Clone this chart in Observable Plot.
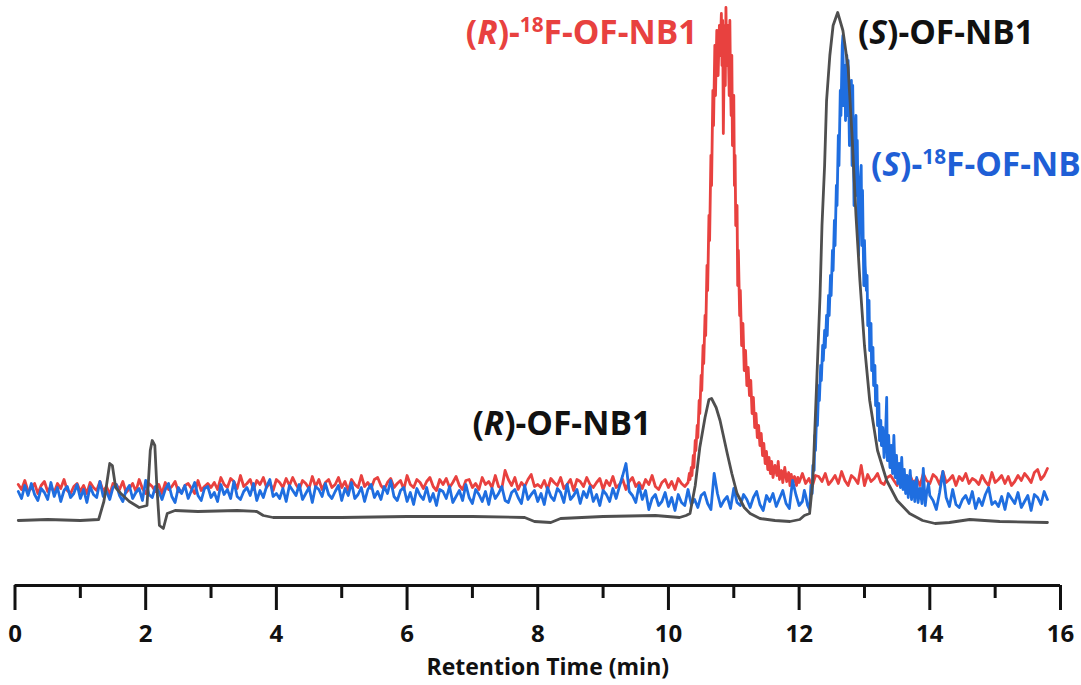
<!DOCTYPE html>
<html><head><meta charset="utf-8">
<script src="https://cdn.jsdelivr.net/npm/d3@7"></script>
<script src="https://cdn.jsdelivr.net/npm/@observablehq/plot@0.6"></script>
<style>html,body{margin:0;padding:0;background:#fff;} #chart{width:1081px;height:685px;overflow:hidden}</style>
</head><body><div id="chart"></div>
<script>
// Retention time (min), detector signal (arbitrary units)
const redTrace = [
[0.05,101],[0.1,96],[0.15,105],[0.2,94],[0.25,97],[0.3,102],[0.35,92],[0.4,100],[0.45,104],[0.5,94],[0.55,99],[0.6,93],[0.65,102],[0.7,97],[0.75,106],[0.8,95],[0.85,92],[0.9,99],[0.95,102],[1.0,94],
[1.05,100],[1.1,92],[1.15,103],[1.2,98],[1.25,95],[1.3,104],[1.35,94],[1.4,99],[1.45,91],[1.5,102],[1.55,101],[1.6,96],[1.65,104],[1.7,93],[1.75,97],[1.8,102],[1.85,94],[1.9,106],[1.95,97],[2.0,92],
[2.05,102],[2.1,99],[2.15,94],[2.2,101],[2.25,92],[2.3,103],[2.35,96],[2.4,99],[2.45,104],[2.5,94],[2.55,93],[2.6,100],[2.65,102],[2.7,97],[2.75,92],[2.8,105],[2.85,95],[2.9,99],[2.95,102],
[3.0,98],[3.05,103],[3.1,96],[3.15,108],[3.2,101],[3.25,98],[3.3,107],[3.35,104],[3.4,97],[3.45,110],[3.5,99],[3.55,102],[3.6,106],[3.65,96],[3.7,105],[3.75,101],[3.8,108],[3.85,98],[3.9,103],[3.95,95],
[4.0,106],[4.05,103],[4.1,98],[4.15,107],[4.2,100],[4.25,108],[4.3,101],[4.35,96],[4.4,105],[4.45,102],[4.5,97],[4.55,109],[4.6,99],[4.65,106],[4.7,96],[4.75,103],[4.8,106],[4.85,98],[4.9,101],[4.95,108],
[5.0,98],[5.05,104],[5.1,95],[5.15,106],[5.2,101],[5.25,98],[5.3,110],[5.35,99],[5.4,103],[5.45,97],[5.5,106],[5.55,108],[5.6,100],[5.65,96],[5.7,103],[5.75,107],[5.8,98],[5.85,102],[5.9,105],[5.95,96],
[6.0,110],[6.05,101],[6.1,98],[6.15,106],[6.2,103],[6.25,97],[6.3,104],[6.35,108],[6.4,99],[6.45,95],[6.5,106],[6.55,101],[6.6,107],[6.65,98],[6.7,103],[6.75,109],[6.8,100],[6.85,96],[6.9,105],[6.95,106],
[7.0,98],[7.05,102],[7.1,96],[7.15,108],[7.2,101],[7.25,104],[7.3,98],[7.35,110],[7.4,99],[7.45,97],[7.5,115],[7.55,106],[7.6,100],[7.65,108],[7.7,96],[7.75,103],[7.8,99],[7.85,106],[7.9,111],[7.95,99],
[8.0,101],[8.05,98],[8.1,105],[8.15,96],[8.2,107],[8.25,103],[8.3,100],[8.35,108],[8.4,97],[8.45,101],[8.5,106],[8.55,95],[8.6,106],[8.65,104],[8.7,99],[8.75,108],[8.8,101],[8.85,98],[8.9,103],[8.95,107],
[9.0,96],[9.05,105],[9.1,100],[9.15,109],[9.2,98],[9.25,101],[9.3,106],[9.35,96],[9.4,104],[9.45,108],[9.5,99],[9.55,103],[9.6,97],[9.65,106],[9.7,101],[9.75,110],[9.8,99],[9.85,96],[9.9,103],[9.95,106],
[10.0,98],[10.05,104],[10.1,96],[10.15,107],[10.2,102],[10.25,99],
[10.30,103],[10.32,112],[10.33,106],[10.35,118],[10.36,110],[10.38,130],[10.39,118],[10.41,145],[10.42,135],[10.44,160],[10.45,148],[10.47,185],[10.48,172],[10.50,210],[10.51,195],
[10.53,240],[10.54,222],[10.56,270],[10.57,250],[10.59,320],[10.60,295],[10.62,370],[10.63,345],[10.65,430],[10.66,400],[10.68,495],[10.69,460],[10.71,540],[10.72,490],[10.74,555],
[10.76,510],[10.78,560],[10.79,530],[10.81,572],[10.82,520],[10.83,565],[10.84,452],[10.86,560],[10.87,500],[10.88,578],[10.89,530],[10.90,520],[10.91,560],[10.93,490],[10.94,565],
[10.95,500],[10.96,470],[10.97,530],[10.98,440],[11.00,490],[11.01,400],[11.02,430],[11.03,360],[11.05,380],[11.06,300],[11.07,335],[11.09,270],[11.10,295],[11.12,240],[11.14,262],
[11.16,215],[11.18,235],[11.20,200],[11.22,218],[11.24,190],[11.26,205],[11.28,172],[11.30,188],[11.32,158],[11.34,172],[11.36,148],[11.38,160],[11.40,140],[11.42,152],[11.44,130],
[11.46,142],[11.48,122],[11.50,134],[11.52,116],[11.54,128],[11.56,112],[11.58,124],[11.60,108],[11.63,120],[11.66,110],[11.68,124],[11.70,106],[11.73,115],[11.75,103],[11.78,118],
[11.81,104],[11.84,113],[11.86,100],[11.88,111],[11.90,102],[11.93,109],[11.96,100],[11.98,108],[12.00,103],
[12.05,112],[12.1,102],[12.15,107],[12.2,99],[12.25,110],[12.3,109],[12.35,104],[12.4,112],[12.45,101],[12.5,105],[12.55,110],[12.6,102],[12.65,114],[12.7,105],[12.75,100],[12.8,110],[12.85,107],[12.9,102],[12.95,120],
[13.0,100],[13.05,111],[13.1,104],[13.15,107],[13.2,112],[13.25,103],[13.3,101],[13.35,108],[13.4,110],[13.45,105],[13.5,100],[13.55,113],[13.6,103],[13.65,107],[13.7,110],[13.75,102],[13.8,107],[13.85,100],[13.9,112],[13.95,105],
[14.0,102],[14.05,111],[14.1,108],[14.15,101],[14.2,114],[14.25,103],[14.3,106],[14.35,110],[14.4,100],[14.45,109],[14.5,105],[14.55,112],[14.6,102],[14.65,107],[14.7,105],[14.75,101],[14.8,110],[14.85,104],[14.9,100],[14.95,113],
[15.0,103],[15.05,106],[15.1,110],[15.15,102],[15.2,109],[15.25,100],[15.3,104],[15.35,110],[15.4,105],[15.45,112],[15.5,108],[15.55,103],[15.6,113],[15.65,116],[15.7,106],[15.75,110],[15.8,117]
];

const blueTrace = [
[0.05,94],[0.1,87],[0.15,100],[0.2,90],[0.25,102],[0.3,91],[0.35,85],[0.4,97],[0.45,93],[0.5,86],[0.55,103],[0.6,89],[0.65,98],[0.7,84],[0.75,95],[0.8,99],[0.85,88],[0.9,92],[0.95,101],[1.0,87],
[1.05,96],[1.1,83],[1.15,99],[1.2,91],[1.25,88],[1.3,104],[1.35,89],[1.4,94],[1.45,86],[1.5,98],[1.55,101],[1.6,90],[1.65,84],[1.7,95],[1.75,100],[1.8,87],[1.85,93],[1.9,97],[1.95,85],[2.0,105],
[2.05,91],[2.1,88],[2.15,99],[2.2,94],[2.25,86],[2.3,96],[2.35,102],[2.4,89],[2.45,83],[2.5,98],[2.55,92],[2.6,100],[2.65,87],[2.7,95],[2.75,103],[2.8,90],[2.85,85],[2.9,97],[2.95,99],[3.0,88],
[3.05,93],[3.1,84],[3.15,101],[3.2,91],[3.25,96],[3.3,87],[3.35,104],[3.4,89],[3.45,86],[3.5,94],[3.55,98],[3.6,90],[3.65,102],[3.7,85],[3.75,95],[3.8,88],[3.85,99],[3.9,106],[3.95,89],[4.0,92],
[4.05,87],[4.1,97],[4.15,84],[4.2,100],[4.25,95],[4.3,90],[4.35,101],[4.4,86],[4.45,92],[4.5,98],[4.55,83],[4.6,99],[4.65,96],[4.7,89],[4.75,102],[4.8,91],[4.85,87],[4.9,94],[4.95,100],[5.0,85],
[5.05,97],[5.1,90],[5.15,103],[5.2,87],[5.25,91],[5.3,98],[5.35,84],[5.4,96],[5.45,101],[5.5,88],[5.55,94],[5.6,86],[5.65,99],[5.7,92],[5.75,105],[5.8,89],[5.85,85],[5.9,95],[5.95,98],
[6.0,84],[6.05,93],[6.1,81],[6.15,97],[6.2,90],[6.25,86],[6.3,98],[6.35,84],[6.4,92],[6.45,80],[6.5,96],[6.55,94],[6.6,87],[6.65,99],[6.7,83],[6.75,89],[6.8,95],[6.85,85],[6.9,101],[6.95,88],
[7.0,82],[7.05,96],[7.1,91],[7.15,84],[7.2,94],[7.25,81],[7.3,97],[7.35,87],[7.4,92],[7.45,99],[7.5,85],[7.55,83],[7.6,93],[7.65,96],[7.7,88],[7.75,82],[7.8,100],[7.85,86],[7.9,91],[7.95,95],
[8.0,84],[8.05,92],[8.1,81],[8.15,98],[8.2,89],[8.25,85],[8.3,97],[8.35,93],[8.4,83],[8.45,101],[8.5,86],[8.55,90],[8.6,96],[8.65,82],[8.7,94],[8.75,88],[8.8,99],[8.85,84],[8.9,91],[8.95,80],
[9.0,95],[9.05,91],[9.1,84],[9.15,97],[9.2,87],[9.25,99],[9.3,110],[9.35,122],[9.4,94],[9.45,90],[9.5,83],[9.55,100],[9.6,86],[9.65,95],
[9.7,76],[9.75,87],[9.8,91],[9.85,80],[9.9,84],[9.95,93],[10.0,79],[10.05,88],[10.1,75],[10.15,91],[10.2,83],[10.25,80],[10.3,96],[10.35,81],[10.4,86],[10.45,78],[10.5,90],[10.55,93],[10.6,82],[10.65,76],
[10.7,112],[10.75,92],[10.8,79],[10.85,85],[10.9,89],[10.95,77],[11.0,97],[11.05,83],[11.1,80],[11.15,91],[11.2,86],[11.25,78],[11.3,88],[11.35,94],[11.4,81],[11.45,75],[11.5,90],[11.55,84],[11.6,92],[11.65,79],
[11.7,87],[11.75,95],[11.8,82],[11.85,77],[11.9,105],[11.95,91],[12.0,80],
[12.05,84],[12.08,95],[12.10,90],[12.13,80],[12.16,76],[12.18,100],[12.20,92],[12.21,120],[12.23,115],[12.24,150],[12.25,135],[12.27,175],[12.28,160],[12.30,200],[12.31,185],
[12.33,220],[12.34,205],[12.36,240],[12.37,225],[12.39,255],[12.40,238],[12.42,270],[12.43,250],[12.45,290],[12.46,270],[12.48,310],[12.49,290],[12.51,335],[12.52,315],[12.54,365],
[12.55,340],[12.57,400],[12.58,380],[12.60,450],[12.61,420],[12.63,495],[12.64,470],[12.66,540],[12.67,550],[12.68,480],[12.70,520],[12.71,465],[12.73,530],[12.74,470],[12.75,525],
[12.77,440],[12.78,470],[12.80,505],[12.81,420],[12.82,500],[12.84,380],[12.85,440],[12.87,470],[12.88,390],[12.89,445],[12.91,330],[12.92,370],[12.93,400],[12.95,420],[12.96,340],
[12.97,395],[12.99,300],[13.00,345],[13.01,320],[13.03,295],[13.04,310],[13.05,260],[13.07,285],[13.08,235],[13.10,262],[13.11,215],[13.13,238],[13.14,200],[13.16,220],[13.17,180],
[13.19,200],[13.20,160],[13.22,182],[13.23,145],[13.25,165],[13.26,140],[13.28,158],[13.30,128],[13.32,145],[13.34,188],[13.35,125],[13.37,150],[13.39,118],[13.41,140],[13.43,112],
[13.45,150],[13.47,108],[13.49,130],[13.51,102],[13.53,122],[13.55,98],[13.57,128],[13.59,96],[13.61,116],[13.63,92],[13.65,110],[13.67,88],[13.70,115],[13.72,86],[13.75,104],
[13.77,84],[13.80,108],[13.82,83],[13.85,97],[13.88,82],[13.90,117],[13.93,80],[13.95,92],[13.98,102],[14.00,90],
[14.05,85],[14.1,76],[14.15,93],[14.2,114],[14.25,88],[14.3,79],[14.35,96],[14.4,81],[14.45,78],[14.5,86],[14.55,90],[14.6,82],[14.65,94],[14.7,77],[14.75,87],[14.8,80],[14.85,91],[14.9,98],[14.95,81],
[15.0,84],[15.05,79],[15.1,89],[15.15,76],[15.2,92],[15.25,87],[15.3,82],[15.35,93],[15.4,78],[15.45,84],[15.5,90],[15.55,75],[15.6,91],[15.65,88],[15.7,81],[15.75,94],[15.8,86]
];

const grayTrace = [
[0.05,65],[0.5,66],[1.0,65],[1.28,66],[1.36,84],[1.40,100],[1.45,122],[1.49,120],[1.54,98],
[1.62,92],[1.75,84],[1.90,78],[2.02,80],[2.07,135],[2.10,145],[2.14,140],[2.17,100],[2.21,60],
[2.27,57],[2.33,72],[2.45,75],[2.8,74],[3.4,75],[3.7,74],[3.8,70],[3.95,68],[5.0,68],[6.0,69],
[7.0,69],[7.8,68],[7.95,64],[8.2,63],[8.35,67],[9.0,69],[9.8,70],[10.17,68],[10.27,70],[10.33,72],
[10.41,100],[10.48,138],[10.56,168],[10.62,186],[10.66,187],[10.73,178],[10.79,165],[10.90,132],
[10.97,112],[11.05,92],[11.16,78],[11.25,72],[11.40,67],[11.63,65],[11.86,64],[12.01,66],[12.08,70],
[12.16,72],[12.21,105],[12.27,205],[12.32,290],[12.35,360],[12.39,420],[12.42,485],[12.47,530],
[12.52,560],[12.59,573],[12.67,555],[12.75,518],[12.81,450],[12.87,370],[12.93,305],[13.00,240],
[13.08,185],[13.20,135],[13.34,105],[13.50,85],[13.69,72],[13.89,65],[14.08,62],[14.30,63],
[14.61,66],[15.07,64],[15.8,63]
];

const majorTicks = [0, 2, 4, 6, 8, 10, 12, 14, 16];
const minorTicks = [1, 3, 5, 7, 9, 11, 13, 15];
const axisTitle = "Retention Time (min)";

// peak annotations: text, anchor time, anchor signal level
const labelTexts  = ["(R)-18F-OF-NB1", "(S)-OF-NB1", "(S)-18F-OF-NB1", "(R)-OF-NB1"];
const labelTimes  = [6.9, 12.9, 13.1, 7.0];
const labelLevels = [552, 552, 420, 161];
</script>
<script>
const RED = "#e8413f", BLUE = "#1f6ee0", GRAY = "#4f4f4f", INK = "#111111";
const LABEL_COLORS = [RED, INK, "#1f5fd6", INK];
const FONT = "'Open Sans', Lato, sans-serif";
const LABEL_SIZE = 33.5;

const textMarks = labelTexts.map((s, i) =>
  Plot.text([{s, t: labelTimes[i], v: labelLevels[i]}], {
    x: "t", y: "v", text: "s", textAnchor: "start", fill: LABEL_COLORS[i],
    fontSize: LABEL_SIZE, fontWeight: "bold", fontFamily: FONT
  })
);

const plot = Plot.plot({
  width: 1081, height: 685,
  marginLeft: 14.5, marginRight: 21, marginTop: 5, marginBottom: 100,
  x: {domain: [0, 16], label: null},
  y: {domain: [0, 580], axis: null},
  style: {fontFamily: FONT, background: "white", overflow: "hidden"},
  marks: [
    Plot.line(redTrace, {x: d => d[0], y: d => d[1], stroke: RED, strokeWidth: 2.8, strokeLinejoin: "round"}),
    Plot.line(blueTrace, {x: d => d[0], y: d => d[1], stroke: BLUE, strokeWidth: 2.8, strokeLinejoin: "round"}),
    Plot.line(grayTrace, {x: d => d[0], y: d => d[1], stroke: GRAY, strokeWidth: 2.8, strokeLinejoin: "round"}),
    Plot.ruleY([0], {stroke: INK, strokeWidth: 3}),
    Plot.axisX(minorTicks, {tickSize: 13, tickFormat: () => "", strokeWidth: 3, stroke: INK, label: null}),
    Plot.axisX(majorTicks, {tickSize: 25, tickPadding: 14, strokeWidth: 3, stroke: INK, fill: INK,
      fontSize: 24, fontWeight: "bold", fontFamily: FONT, label: null}),
    Plot.text([axisTitle], {frameAnchor: "bottom", dy: 89, dx: 10, fontSize: 23, fontWeight: "bold", fontFamily: FONT, fill: INK}),
    ...textMarks
  ]
});

// rich text: italic stereo-descriptor and superscript mass number
d3.select(plot).selectAll("text").each(function() {
  const s = this.textContent;
  const m = s.match(/^\((\w)\)-(18)?(.*)$/);
  if (!m) return;
  const sel = d3.select(this);
  sel.text(null);
  sel.append("tspan").text("(");
  sel.append("tspan").attr("font-style", "italic").text(m[1]);
  sel.append("tspan").text(")-");
  if (m[2]) {
    sel.append("tspan").attr("font-size", LABEL_SIZE * 0.62).attr("dy", -LABEL_SIZE * 0.36).text(m[2]);
    sel.append("tspan").attr("dy", LABEL_SIZE * 0.36).text(m[3]);
  } else {
    sel.append("tspan").text(m[3]);
  }
});

document.getElementById("chart").appendChild(plot);
</script>
</body></html>
